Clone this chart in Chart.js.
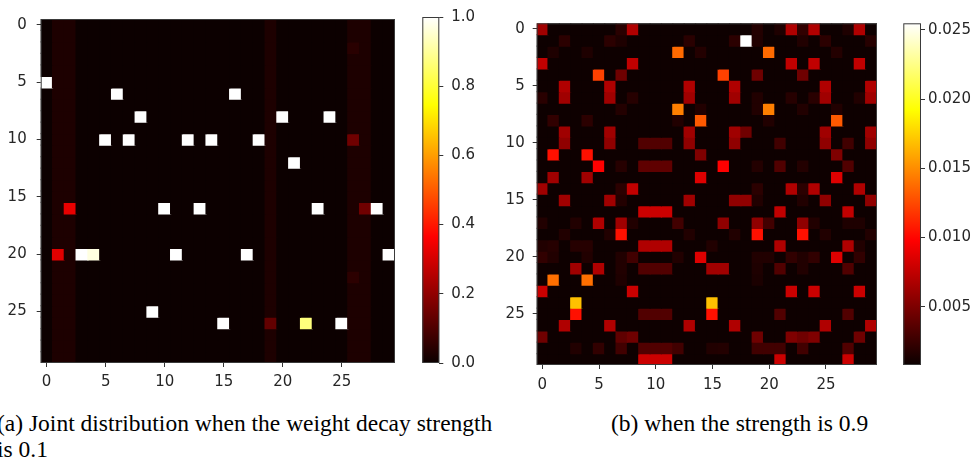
<!DOCTYPE html>
<html>
<head>
<meta charset="utf-8">
<script src="https://cdn.jsdelivr.net/npm/chart.js@4.4.1/dist/chart.umd.min.js"></script>
<style>
  body { margin: 0; width: 979px; height: 460px; overflow: hidden; position: relative; background: #fff; }
  canvas { position: absolute; top: 0; }
  .cap { position: absolute; font-family: "Liberation Serif", "Times New Roman", serif; font-size: 23.5px; line-height: 26px; color: #000; white-space: nowrap; }
</style>
</head>
<body>
<canvas id="heatWeak" width="400" height="395" style="left:0"></canvas>
<canvas id="barWeak" width="80" height="395" style="left:418px"></canvas>
<canvas id="heatStrong" width="392" height="395" style="left:490px"></canvas>
<canvas id="barStrong" width="79" height="395" style="left:900px"></canvas>
<div class="cap" style="left:-3px;top:410px">(a) Joint distribution when the weight decay strength<br>is 0.1</div>
<div class="cap" style="left:611px;top:410px">(b) when the strength is 0.9</div>
<script>
// grid indices (rows and columns are both 0..29)
const cells = [...Array(30).keys()];
const axisTicks = [0, 5, 10, 15, 20, 25];

// weight decay 0.1: nearly empty joint distribution, a few faint columns
const weakBase = 0.002;
const weakBandCols = [1, 2, 19, 26, 27];
const weakBandValue = 0.028;
// [row, col, value]
const weakCells = [
  [2, 26, 0.045],
  [5, 0, 1], [6, 6, 1], [6, 16, 1],
  [8, 8, 1], [8, 20, 1], [8, 24, 1],
  [10, 5, 1], [10, 7, 1], [10, 12, 1], [10, 14, 1], [10, 18, 1], [10, 26, 0.15],
  [12, 21, 1],
  [16, 2, 0.33], [16, 10, 1], [16, 13, 1], [16, 23, 1], [16, 27, 0.15], [16, 28, 1],
  [20, 1, 0.32], [20, 3, 1], [20, 4, 0.97], [20, 11, 1], [20, 17, 1], [20, 29, 1],
  [22, 26, 0.05],
  [25, 9, 1],
  [26, 15, 1], [26, 19, 0.13], [26, 22, 0.87], [26, 25, 1]
];
const weakRange = [0, 1];
const weakBarTicks = [0, 0.2, 0.4, 0.6, 0.8, 1.0];

// weight decay 0.9
const strongBase = 0.0009;
const strongCells = [
  [0, 0, 0.0063], [0, 7, 0.0019], [0, 8, 0.0069], [0, 19, 0.0017], [0, 21, 0.0015], [0, 22, 0.0069], [0, 23, 0.0022], [0, 24, 0.0069], [0, 27, 0.0015], [0, 28, 0.0069],
  [1, 2, 0.0020], [1, 6, 0.0020], [1, 7, 0.0015], [1, 13, 0.0019], [1, 17, 0.0020], [1, 18, 0.0255], [1, 19, 0.0016], [1, 23, 0.0016], [1, 25, 0.0020], [1, 29, 0.0018],
  [2, 1, 0.0015], [2, 4, 0.0015], [2, 12, 0.0137], [2, 14, 0.0017], [2, 20, 0.0137], [2, 26, 0.0017],
  [3, 0, 0.0075], [3, 8, 0.0075], [3, 22, 0.0075], [3, 24, 0.0075], [3, 28, 0.0075],
  [4, 5, 0.0122], [4, 7, 0.0045], [4, 16, 0.0122], [4, 19, 0.0045], [4, 23, 0.0045],
  [5, 2, 0.0069], [5, 6, 0.0069], [5, 13, 0.0069], [5, 17, 0.0069], [5, 25, 0.0069], [5, 29, 0.0069],
  [6, 0, 0.0019], [6, 2, 0.0063], [6, 6, 0.0063], [6, 8, 0.0018], [6, 13, 0.0063], [6, 17, 0.0063], [6, 19, 0.0016], [6, 22, 0.0018], [6, 24, 0.0019], [6, 25, 0.0063], [6, 28, 0.0016], [6, 29, 0.0063],
  [7, 7, 0.0017], [7, 12, 0.0145], [7, 14, 0.0016], [7, 19, 0.0016], [7, 20, 0.0145], [7, 23, 0.0016], [7, 26, 0.0016],
  [8, 1, 0.0022], [8, 4, 0.0020], [8, 12, 0.0016], [8, 14, 0.0131], [8, 20, 0.0016], [8, 26, 0.0131],
  [9, 2, 0.0063], [9, 6, 0.0063], [9, 13, 0.0063], [9, 17, 0.0063], [9, 18, 0.0045], [9, 25, 0.0063], [9, 29, 0.0063],
  [10, 2, 0.0057], [10, 6, 0.0057], [10, 9, 0.0034], [10, 10, 0.0034], [10, 11, 0.0034], [10, 13, 0.0057], [10, 17, 0.0057], [10, 21, 0.0028], [10, 25, 0.0057], [10, 27, 0.0028], [10, 29, 0.0057],
  [11, 1, 0.0104], [11, 4, 0.0104], [11, 14, 0.0051], [11, 26, 0.0051],
  [12, 5, 0.0098], [12, 7, 0.0018], [12, 9, 0.0039], [12, 10, 0.0039], [12, 11, 0.0039], [12, 16, 0.0098], [12, 19, 0.0017], [12, 21, 0.0034], [12, 23, 0.0017], [12, 27, 0.0034],
  [13, 1, 0.0063], [13, 4, 0.0063], [13, 14, 0.0086], [13, 26, 0.0086],
  [14, 0, 0.0063], [14, 7, 0.0020], [14, 8, 0.0075], [14, 19, 0.0020], [14, 22, 0.0069], [14, 23, 0.0020], [14, 24, 0.0069], [14, 28, 0.0069],
  [15, 2, 0.0063], [15, 6, 0.0063], [15, 7, 0.0017], [15, 13, 0.0063], [15, 17, 0.0057], [15, 18, 0.0057], [15, 19, 0.0016], [15, 23, 0.0016], [15, 25, 0.0057], [15, 29, 0.0057],
  [16, 9, 0.0079], [16, 10, 0.0079], [16, 11, 0.0079], [16, 21, 0.0075], [16, 27, 0.0075],
  [17, 0, 0.0016], [17, 3, 0.0016], [17, 5, 0.0069], [17, 7, 0.0063], [17, 8, 0.0016], [17, 12, 0.0028], [17, 16, 0.0057], [17, 19, 0.0057], [17, 20, 0.0028], [17, 23, 0.0057], [17, 24, 0.0016], [17, 27, 0.0015], [17, 28, 0.0015],
  [18, 2, 0.0016], [18, 6, 0.0016], [18, 7, 0.0104], [18, 13, 0.0016], [18, 17, 0.0016], [18, 19, 0.0104], [18, 23, 0.0104], [18, 25, 0.0016], [18, 29, 0.0016],
  [19, 0, 0.0016], [19, 1, 0.0018], [19, 3, 0.0018], [19, 4, 0.0018], [19, 9, 0.0069], [19, 10, 0.0069], [19, 11, 0.0069], [19, 15, 0.0016], [19, 21, 0.0069], [19, 27, 0.0069], [19, 28, 0.0016],
  [20, 0, 0.0022], [20, 1, 0.0016], [20, 4, 0.0016], [20, 7, 0.0016], [20, 8, 0.0028], [20, 12, 0.0016], [20, 14, 0.0086], [20, 19, 0.0016], [20, 20, 0.0016], [20, 22, 0.0022], [20, 23, 0.0016], [20, 24, 0.0022], [20, 26, 0.0086], [20, 28, 0.0022],
  [21, 3, 0.0063], [21, 5, 0.0069], [21, 7, 0.0016], [21, 9, 0.0034], [21, 10, 0.0034], [21, 11, 0.0034], [21, 15, 0.0063], [21, 16, 0.0063], [21, 19, 0.0015], [21, 21, 0.0034], [21, 23, 0.0016], [21, 27, 0.0034],
  [22, 1, 0.0139], [22, 4, 0.0139], [22, 7, 0.0015], [22, 19, 0.0014],
  [23, 0, 0.0079], [23, 8, 0.0079], [23, 22, 0.0079], [23, 24, 0.0079], [23, 28, 0.0079],
  [24, 3, 0.0169], [24, 15, 0.0169],
  [25, 3, 0.0104], [25, 9, 0.0034], [25, 10, 0.0034], [25, 11, 0.0034], [25, 15, 0.0104], [25, 21, 0.0034], [25, 27, 0.0034],
  [26, 2, 0.0069], [26, 6, 0.0069], [26, 13, 0.0069], [26, 17, 0.0069], [26, 25, 0.0069], [26, 29, 0.0069],
  [27, 0, 0.0045], [27, 7, 0.0039], [27, 8, 0.0045], [27, 19, 0.0045], [27, 22, 0.0051], [27, 23, 0.0045], [27, 24, 0.0051], [27, 28, 0.0045],
  [28, 3, 0.0016], [28, 5, 0.0022], [28, 7, 0.0028], [28, 9, 0.0034], [28, 10, 0.0034], [28, 11, 0.0034], [28, 12, 0.0028], [28, 15, 0.0016], [28, 16, 0.0017], [28, 19, 0.0028], [28, 20, 0.0028], [28, 21, 0.0028], [28, 23, 0.0028], [28, 27, 0.0034],
  [29, 9, 0.0079], [29, 10, 0.0079], [29, 11, 0.0079], [29, 21, 0.0079], [29, 27, 0.0079]
];
const strongRange = [0.00079, 0.02548];
const strongBarTicks = [0.005, 0.010, 0.015, 0.020, 0.025];

const TEXT = '#262626';
const FONT = { family: 'DejaVu Sans', size: 15 };

// matplotlib "hot" colormap
const HOT_STOPS = [[0, [10.6, 0, 0]], [0.365079, [255, 0, 0]], [0.746032, [255, 255, 0]], [1, [255, 255, 255]]];
function hot(t) {
  t = Math.min(1, Math.max(0, t));
  for (let i = 1; i < HOT_STOPS.length; i++) {
    const [t1, c1] = HOT_STOPS[i];
    if (t <= t1) {
      const [t0, c0] = HOT_STOPS[i - 1];
      const f = (t - t0) / (t1 - t0);
      const c = c0.map((v, k) => Math.round(v + (c1[k] - v) * f));
      return `rgb(${c[0]},${c[1]},${c[2]})`;
    }
  }
  return '#fff';
}

function buildGrid(base, bandCols, bandValue, list) {
  const grid = cells.map(() => cells.map(c => bandCols.includes(c) ? bandValue : base));
  list.forEach(([r, c, v]) => { grid[r][c] = v; });
  return grid;
}

const framePlugin = {
  id: 'frame',
  afterDatasetsDraw(chart) {
    const a = chart.chartArea, ctx = chart.ctx;
    ctx.save();
    ctx.strokeStyle = '#3a3a3a';
    ctx.lineWidth = 1;
    ctx.strokeRect(a.left + 0.5, a.top + 0.5, a.right - a.left - 1, a.bottom - a.top - 1);
    ctx.restore();
  }
};

function heatChart(id, grid, range, g) {
  const [vmin, vmax] = range;
  // one floating-bar dataset per row; inflate a little so neighbouring cells leave no seams
  const datasets = cells.map(r => ({
    data: cells.map(() => [r - 0.5, r + 0.5]),
    backgroundColor: cells.map(c => hot((grid[r][c] - vmin) / (vmax - vmin))),
    borderWidth: 0,
    inflateAmount: 0.6,
    barPercentage: 1,
    categoryPercentage: 1,
    grouped: false
  }));
  return new Chart(document.getElementById(id), {
    type: 'bar',
    data: { labels: cells.map(String), datasets },
    options: {
      responsive: false, animation: false, devicePixelRatio: 1, events: [],
      layout: { padding: { left: 0, top: g.top, right: g.right, bottom: 0 } },
      plugins: { legend: { display: false }, tooltip: { enabled: false } },
      scales: {
        x: {
          afterFit: s => { s.height = g.xHeight; },
          grid: { offset: false, drawOnChartArea: false, tickLength: 4, tickColor: '#333' },
          border: { display: false },
          ticks: {
            autoSkip: false, maxRotation: 0, padding: g.xPad, color: TEXT, font: FONT,
            callback: (v, i) => (i % 5 === 0 ? String(i) : null)
          }
        },
        y: {
          min: -0.5, max: 29.5, reverse: true,
          afterFit: s => { s.width = g.yWidth; },
          afterBuildTicks: s => { s.ticks = axisTicks.map(v => ({ value: v })); },
          grid: { drawOnChartArea: false, tickLength: 4, tickColor: '#333' },
          border: { display: false },
          ticks: { padding: g.yPad, color: TEXT, font: FONT, callback: v => String(v) }
        }
      }
    },
    plugins: [framePlugin]
  });
}

function colorBar(id, range, ticks, digits, g) {
  return new Chart(document.getElementById(id), {
    type: 'bar',
    data: {
      labels: [''],
      datasets: [{
        data: [range],
        borderWidth: 0,
        barPercentage: 1,
        categoryPercentage: 1,
        backgroundColor: ctx => {
          const a = ctx.chart.chartArea;
          if (!a) return '#000';
          const grad = ctx.chart.ctx.createLinearGradient(0, a.bottom, 0, a.top);
          HOT_STOPS.forEach(([t, c]) => grad.addColorStop(t, `rgb(${c.map(Math.round).join(',')})`));
          return grad;
        }
      }]
    },
    options: {
      responsive: false, animation: false, devicePixelRatio: 1, events: [],
      layout: { padding: { left: g.left, top: g.top, right: 0, bottom: g.bottom } },
      plugins: { legend: { display: false }, tooltip: { enabled: false } },
      scales: {
        x: { display: false },
        y: {
          position: 'right', min: range[0], max: range[1],
          afterFit: s => { s.width = g.axisWidth; },
          afterBuildTicks: s => { s.ticks = ticks.map(v => ({ value: v })); },
          grid: { drawOnChartArea: false, tickLength: 4, tickColor: '#333' },
          border: { display: false },
          ticks: { padding: g.pad, color: TEXT, font: FONT, callback: v => v.toFixed(digits) }
        }
      }
    },
    plugins: [framePlugin]
  });
}

heatChart('heatWeak', buildGrid(weakBase, weakBandCols, weakBandValue, weakCells), weakRange,
  { top: 8, right: 5, xHeight: 32, yWidth: 40.7, xPad: 6, yPad: 10 });
colorBar('barWeak', weakRange, weakBarTicks, 1,
  { left: 4.3, top: 8, bottom: 32, axisWidth: 58.7, pad: 8 });
heatChart('heatStrong', buildGrid(strongBase, [], 0, strongCells), strongRange,
  { top: 23.3, right: 5, xHeight: 30, yWidth: 46.7, xPad: 7, yPad: 8 });
colorBar('barStrong', strongRange, strongBarTicks, 3,
  { left: 3.3, top: 23.3, bottom: 30, axisWidth: 58, pad: 3 });
</script>
</body>
</html>
